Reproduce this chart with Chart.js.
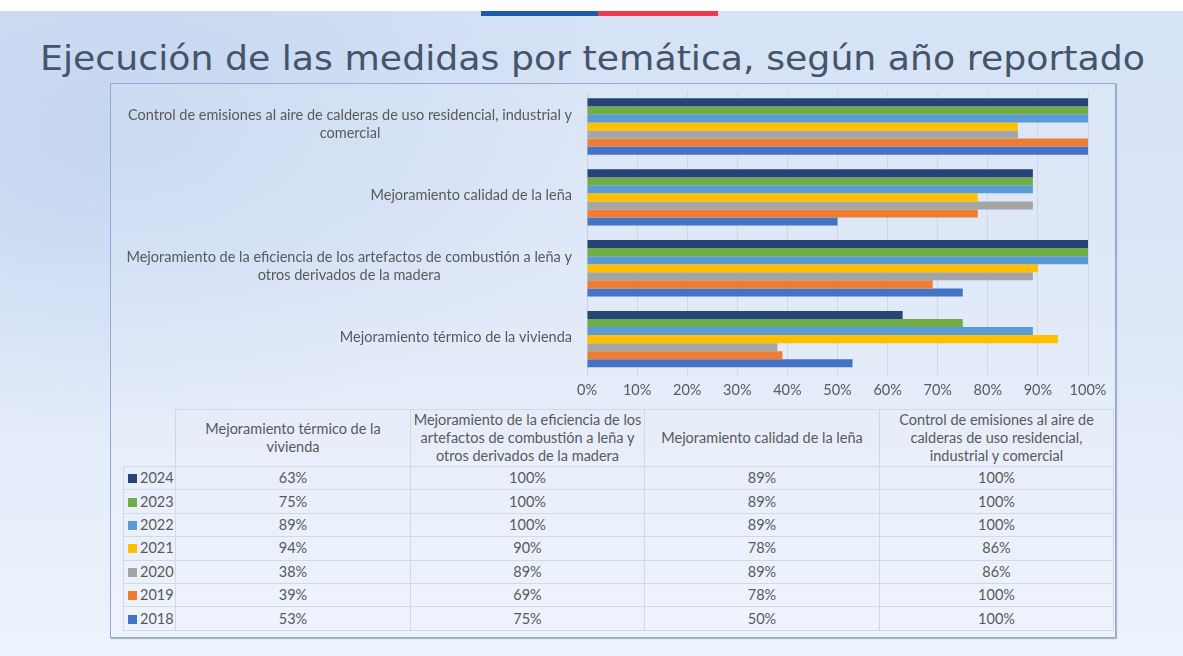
<!DOCTYPE html>
<html>
<head>
<meta charset="utf-8">
<script src="https://cdn.jsdelivr.net/npm/chart.js@4.4.1/dist/chart.umd.min.js"></script>
<style>
  html, body { margin: 0; padding: 0; }
  body {
    width: 1183px; height: 656px; position: relative; overflow: hidden;
    background: #fff; font-family: Lato, 'Noto Sans', sans-serif;
  }
  #bg {
    position: absolute; left: 0; top: 11px; width: 1183px; height: 645px;
    background:
      radial-gradient(ellipse 500px 300px at 120px 120px, rgba(190,208,238,0.7), rgba(190,208,238,0) 100%),
      linear-gradient(180deg, #d6e2f5 0%, #dae5f7 35%, #e4ecfa 65%, #edf3fd 100%);
  }
  #stripe-b { position: absolute; left: 481px; top: 11px; width: 117px; height: 5px; background: #1d5ba7; }
  #stripe-r { position: absolute; left: 598px; top: 11px; width: 120px; height: 5px; background: #ec3a4a; }
  #title {
    position: absolute; left: 40px; top: 38px; white-space: nowrap;
    font-family: 'DejaVu Sans', sans-serif; font-size: 34px; color: #44546a;
    transform-origin: 0 0; line-height: 40px;
  }
  #panel {
    position: absolute; left: 110px; top: 83px; width: 1004px; height: 553px;
    border: 1px solid #8eaad6; background: rgba(255,255,255,0.12);
    box-shadow: 1px 1px 1px rgba(90,110,150,0.45);
  }
  #wrap { position: absolute; left: 110px; top: 84px; width: 1005px; height: 322px; }
  table {
    position: absolute; left: 123px; top: 409px; border-collapse: collapse;
    font-size: 14.5px; color: #595959; table-layout: fixed;
  }
  td, th { border: 1px solid #d3d9e3; padding: 0; text-align: center; font-weight: normal; }
  th { height: 56px; line-height: 18px; }
  td { height: 22.4px; line-height: 20px; }
  th.corner { border-top: none; border-left: none; }
  td.yr { text-align: left; padding-left: 4px; }
  .key { display: inline-block; width: 9px; height: 9px; margin-right: 3px; vertical-align: 0px; }
</style>
</head>
<body>
<div id="bg"></div>
<div id="stripe-b"></div>
<div id="stripe-r"></div>
<div id="title">Ejecución de las medidas por temática, según año reportado</div>
<div id="panel"></div>
<div id="wrap"><canvas id="chart"></canvas></div>
<table id="tbl"></table>
<script>
// categories in table order (bottom to top in the chart)
const categories = [
  'Mejoramiento térmico de la vivienda',
  'Mejoramiento de la eficiencia de los artefactos de combustión a leña y otros derivados de la madera',
  'Mejoramiento calidad de la leña',
  'Control de emisiones al aire de calderas de uso residencial, industrial y comercial'
];
// how the labels wrap beside the bars
const axisLabelLines = [
  ['Mejoramiento térmico de la vivienda'],
  ['Mejoramiento de la eficiencia de los artefactos de combustión a leña y', 'otros derivados de la madera'],
  ['Mejoramiento calidad de la leña'],
  ['Control de emisiones al aire de calderas de uso residencial, industrial y', 'comercial']
];
// how the labels wrap in the table header
const headerLines = [
  ['Mejoramiento térmico de la', 'vivienda'],
  ['Mejoramiento de la eficiencia de los', 'artefactos de combustión a leña y', 'otros derivados de la madera'],
  ['Mejoramiento calidad de la leña'],
  ['Control de emisiones al aire de', 'calderas de uso residencial,', 'industrial y comercial']
];

const years = ['2024', '2023', '2022', '2021', '2020', '2019', '2018'];
const v2024 = [63, 100, 89, 100];
const v2023 = [75, 100, 89, 100];
const v2022 = [89, 100, 89, 100];
const v2021 = [94, 90, 78, 86];
const v2020 = [38, 89, 89, 86];
const v2019 = [39, 69, 78, 100];
const v2018 = [53, 75, 50, 100];
const seriesValues = [v2024, v2023, v2022, v2021, v2020, v2019, v2018];
const seriesColors = ['#264478', '#70ad47', '#5b9bd5', '#ffc000', '#a5a5a5', '#ed7d31', '#4472c4'];

const xTicks = [0, 10, 20, 30, 40, 50, 60, 70, 80, 90, 100];

// squeeze the title to the width it has in the slide
const title = document.getElementById('title');
title.style.transform = 'scaleX(' + (1105 / title.getBoundingClientRect().width) + ')';

// chart draws top to bottom, so flip the category order
const topDown = (arr) => arr.slice().reverse();

const catLabels = {
    id: 'catLabels',
    afterDraw(chart) {
        const ctx = chart.ctx;
        const y = chart.scales.y;
        const lines = topDown(axisLabelLines);
        ctx.save();
        ctx.font = '14.5px Lato';
        ctx.fillStyle = '#595959';
        ctx.textAlign = 'center';
        ctx.textBaseline = 'middle';
        lines.forEach(function(ls, i) {
            const cy = y.getPixelForValue(i) - 2;
            const w = Math.max.apply(null, ls.map(l => ctx.measureText(l).width));
            const cx = chart.chartArea.left - 15 - w / 2;
            ls.forEach(function(l, k) {
                ctx.fillText(l, cx, cy + (k - (ls.length - 1) / 2) * 18);
            });
        });
        ctx.restore();
    }
};

const datasets = [];
for (let j = 0; j < years.length; j++) {
    datasets.push({
        label: years[j],
        data: topDown(seriesValues[j]),
        backgroundColor: seriesColors[j],
        borderWidth: 0,
        barPercentage: 1,
        categoryPercentage: 0.795
    });
}

new Chart(document.getElementById('chart'), {
    type: 'bar',
    data: { labels: topDown(categories), datasets: datasets },
    plugins: [catLabels],
    options: {
        indexAxis: 'y',
        responsive: true,
        maintainAspectRatio: false,
        animation: false,
        layout: { padding: { top: 7, right: 27, left: 0, bottom: 0 } },
        plugins: { legend: { display: false }, tooltip: { enabled: false } },
        scales: {
            x: {
                min: 0, max: 100,
                afterBuildTicks: (s) => { s.ticks = xTicks.map(v => ({ value: v })); },
                ticks: {
                    callback: (v) => v + '%',
                    color: '#595959',
                    font: { family: 'Lato', size: 14.5 },
                    padding: 7
                },
                grid: { color: 'rgba(200,208,220,0.7)', drawTicks: false },
                border: { display: false }
            },
            y: {
                afterFit: (s) => { s.width = 477; },
                ticks: { display: false },
                grid: { display: false },
                border: { display: true, color: 'rgba(200,208,220,0.7)' }
            }
        }
    }
});

// data table under the chart, built from the same arrays
const tbl = document.getElementById('tbl');
const colW = [52, 235, 234, 235, 234];
let html = '<colgroup>' + colW.map(w => '<col style="width:' + w + 'px">').join('') + '</colgroup>';
html += '<tr><th class="corner"></th>' + headerLines.map(ls => '<th>' + ls.join('<br>') + '</th>').join('') + '</tr>';
for (let j = 0; j < years.length; j++) {
    html += '<tr><td class="yr"><span class="key" style="background:' + seriesColors[j] + '"></span>' + years[j] + '</td>';
    html += seriesValues[j].map(v => '<td>' + v + '%</td>').join('') + '</tr>';
}
tbl.innerHTML = html;
</script>
</body>
</html>
